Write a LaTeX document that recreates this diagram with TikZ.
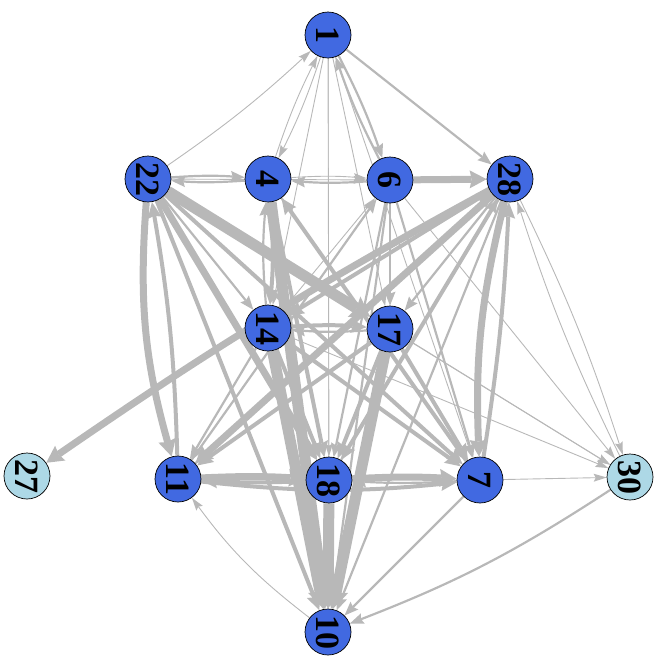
\documentclass[tikz,border=0pt]{standalone}
\usepackage{fontspec}
\setmainfont{Liberation Serif}
\usetikzlibrary{arrows.meta,backgrounds}
\definecolor{edgec}{RGB}{184,184,184}
\definecolor{nodeblue}{RGB}{65,105,225}
\definecolor{nodelight}{RGB}{173,216,230}
\tikzset{
  vtx/.style={circle, draw=black, line width=0.7pt, fill=nodeblue, minimum size=46pt, inner sep=0pt},
  vtxl/.style={vtx, fill=nodelight},
  vlab/.style={rotate=-90, inner sep=0pt, font=\fontsize{34}{34}\selectfont\bfseries},
  eb/.style={draw=edgec, line cap=butt},
  e1/.style={eb, line width=0.9pt, -{Stealth[length=13pt,width=8pt,inset=2pt,line width=0pt]}},
  e2/.style={eb, line width=2.2pt, -{Stealth[length=14pt,width=11pt,inset=2pt,line width=0pt]}},
  e3/.style={eb, line width=4pt, -{Stealth[length=16pt,width=14pt,inset=2pt,line width=0pt]}},
  e4/.style={eb, line width=7pt, -{Stealth[length=17pt,width=18pt,inset=2pt,line width=0pt]}},
  e5/.style={eb, line width=11pt, -{Stealth[length=19pt,width=24pt,inset=3pt,line width=0pt]}},
}
\begin{document}
\begin{tikzpicture}[x=1pt, y=-1pt]
\useasboundingbox (0,0) rectangle (657,662);
% vertices
\node[vtx]  (n1)  at (328,35)  {};
\node[vtx]  (n22) at (148,179) {};
\node[vtx]  (n4)  at (268,179) {};
\node[vtx]  (n6)  at (390,180) {};
\node[vtx]  (n28) at (510,179) {};
\node[vtx]  (n14) at (268,328) {};
\node[vtx]  (n17) at (390,329) {};
\node[vtxl] (n27) at (27,476)  {};
\node[vtx]  (n11) at (178,479) {};
\node[vtx]  (n18) at (329,480) {};
\node[vtx]  (n7)  at (480,480) {};
\node[vtxl] (n30) at (630,477) {};
\node[vtx]  (n10) at (328,632) {};
% vertex labels
\foreach \v in {1,22,4,6,28,14,17,27,11,18,7,30,10}
  \node[vlab] (t\v) at (n\v) {\v};
% directed edges: source / target / weight class / bend
\begin{pgfonlayer}{background}
\foreach \a/\b/\w/\c in {
  22/1/1/-4, 1/28/2/0, 1/4/1/4, 4/1/1/4, 1/6/2/4, 6/1/2/4,
  1/14/1/0, 1/18/1/0, 1/10/1/0, 1/17/1/0, 1/7/1/0,
  22/4/2/4, 4/22/2/4, 6/4/2/4, 4/6/1/4, 6/28/4/0, 22/6/1/0,
  22/17/5/0, 22/14/2/0, 22/11/4/-10, 11/22/3/-4, 22/18/4/0, 22/10/3/0, 22/7/3/0,
  4/10/5/0, 4/18/3/0, 4/7/2/0, 4/14/3/5, 14/4/2/5,
  6/17/2/0, 6/18/2/0, 6/7/2/0, 6/10/2/0, 6/11/1/0, 6/30/1/0,
  28/14/3/0, 28/11/4/0, 28/27/4/-3, 28/7/4/-8, 7/28/3/-3, 28/17/2/0,
  28/18/3/0, 28/10/2/0, 28/30/1/4, 30/28/1/4,
  14/17/3/4, 17/14/2/4, 14/6/1/0, 7/4/3/0, 11/6/2/0, 14/28/2/0,
  18/28/2/0, 11/28/2/0,
  14/10/5/0, 14/18/3/0, 14/7/3/0, 14/11/2/0,
  17/10/5/0, 17/18/3/0, 17/11/3/0, 17/7/3/0, 17/30/1/0,
  18/10/5/0, 11/18/4/3, 18/11/3/3, 18/7/4/3, 7/18/2/3, 11/7/3/-6,
  7/10/2/0, 10/11/1/8, 30/10/2/6, 7/30/1/0, 14/30/1/0, 22/30/1/0
}
  \draw[e\w] (n\a) to[bend left=\c] (n\b);
\end{pgfonlayer}
\end{tikzpicture}
\end{document}
